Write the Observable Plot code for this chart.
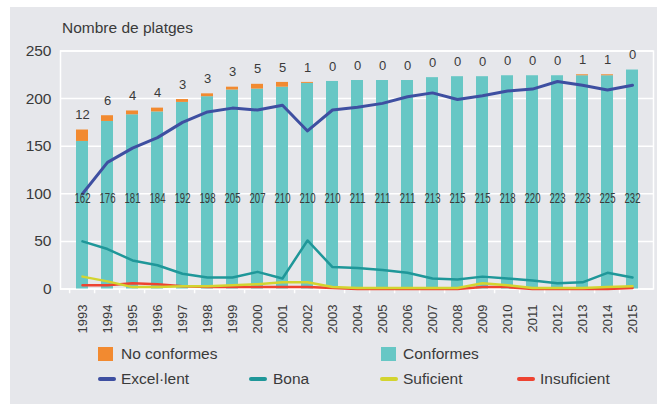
<!DOCTYPE html>
<html>
<head>
<meta charset="utf-8">
<script src="https://cdn.jsdelivr.net/npm/d3@7"></script>
<script src="https://cdn.jsdelivr.net/npm/@observablehq/plot@0.6"></script>
<style>
  body { margin: 0; background: #fff; font-family: "Liberation Sans", Arial, Helvetica, sans-serif; }
  #wrap { position: relative; width: 657px; height: 404px; background: #fff; overflow: hidden; }
  #panel { position: absolute; left: 10px; top: 7px; width: 647px; height: 397px; background: #e6e7eb; }
  #title { position: absolute; left: 62px; top: 19px; font-size: 15.5px; line-height: 18px; color: #3a3a3a; white-space: nowrap; }
  #chart { position: absolute; left: 0; top: 0; }
  .sw { position: absolute; }
  .lt { position: absolute; font-size: 15.5px; line-height: 18px; color: #3a3a3a; white-space: nowrap; }
</style>
</head>
<body>
<div id="wrap">
  <div id="panel"></div>
  <div id="chart"></div>
  <div id="title">Nombre de platges</div>
  <div id="legend"></div>
</div>
<script>
// ---- data ----
const years = ["1993","1994","1995","1996","1997","1998","1999","2000","2001","2002","2003","2004","2005","2006","2007","2008","2009","2010","2011","2012","2013","2014","2015"];
// bar heights as drawn
const conformes   = [155,176,183,186,196,202,209,210,212,216,218,219,219,219,222,223,223,224,224,224,224,224,230];
const noConformes = [12,6,4,4,3,3,3,5,5,1,0,0,0,0,0,0,0,0,0,0,1,1,0];
// printed labels for the "Conformes" count
const conformesLabels = [162,176,181,184,192,198,205,207,210,210,210,211,211,211,213,215,215,218,220,223,223,225,232];
// quality classes (lines)
const excellent   = [100,133,148,159,175,186,190,188,193,166,188,191,195,202,206,199,203,208,210,218,214,209,214];
const bona        = [50,42,30,25,16,12,12,18,11,51,23,22,20,17,11,10,13,11,9,6,7,17,12];
const suficient   = [13,8,2,2,3,3,4,5,7,7,2,1,1,1,1,1,6,4,1,1,1,2,3];
const insuficient = [4,4,6,5,3,2,2,2,2,2,1,0,0,0,0,0,2,2,0,0,0,0,1];
const yTicks = [0,50,100,150,200,250];

const seriesNames = ["No conformes","Conformes","Excel·lent","Bona","Suficient","Insuficient"];
const seriesColors = ["#f28a30","#67c7c5","#3e4fa1","#1f9799","#d3d42f","#ee4331"];

// ---- tables ----
const rows = years.map((year, i) => ({
  year, conformes: conformes[i], noConformes: noConformes[i],
  total: conformes[i] + noConformes[i], label: String(conformesLabels[i]), top: String(noConformes[i])
}));
const stack = rows.flatMap(r => [
  {year: r.year, cat: "Conformes", value: r.conformes},
  {year: r.year, cat: "No conformes", value: r.noConformes}
]);
const mk = (name, vals) => years.map((year, i) => ({year, name, value: vals[i]}));
const lExc = mk("Excel·lent", excellent), lBona = mk("Bona", bona),
      lSuf = mk("Suficient", suficient), lIns = mk("Insuficient", insuficient);

const left = 60, right = 653;
const step = (right - left) / years.length;
const textColor = "#3a3a3a";

const chart = Plot.plot({
  width: 657, height: 340,
  marginLeft: left, marginRight: 657 - right, marginTop: 50.5, marginBottom: 51.5,
  style: {background: "transparent", fontFamily: '"Liberation Sans", Arial, sans-serif', overflow: "visible"},
  x: {domain: years, paddingInner: 0.52, paddingOuter: 0.26, label: null},
  y: {domain: [0, 250], label: null},
  color: {domain: seriesNames, range: seriesColors},
  marks: [
    Plot.gridY(yTicks, {stroke: "#fff", strokeOpacity: 1, strokeWidth: 1.5}),
    Plot.frame({stroke: "#fff", strokeWidth: 1.5}),
    Plot.ruleX(years, {x: d => d, y1: 0, y2: -5, dx: -step / 2, stroke: "#fff", strokeWidth: 1.5}),
    Plot.barY(stack, {x: "year", y: "value", fill: "cat"}),
    Plot.line(lExc, {x: "year", y: "value", stroke: "name", strokeWidth: 3}),
    Plot.line(lBona, {x: "year", y: "value", stroke: "name", strokeWidth: 2.5}),
    Plot.line(lIns, {x: "year", y: "value", stroke: "name", strokeWidth: 2.5}),
    Plot.line(lSuf, {x: "year", y: "value", stroke: "name", strokeWidth: 2.5}),
    Plot.text(rows, {x: "year", y: 100, dy: 4.5, text: "label", fill: textColor, fontSize: 14, className: "clabel"}),
    Plot.text(rows, {x: "year", y: "total", dy: -15, text: "top", fill: textColor, fontSize: 13}),
    Plot.axisY(yTicks, {tickSize: 0, tickPadding: 9, fontSize: 15.5, color: textColor, label: null}),
    Plot.axisX({tickSize: 0, tickRotate: -90, tickPadding: 15.5, fontSize: 13, color: textColor, label: null})
  ]
});
// condensed look of the printed counts inside the bars
chart.querySelectorAll(".clabel text").forEach(t => {
  t.setAttribute("textLength", "16");
  t.setAttribute("lengthAdjust", "spacingAndGlyphs");
});
document.getElementById("chart").appendChild(chart);

// ---- legend (HTML below/around the SVG) ----
const legendItems = [
  {name: "No conformes", kind: "box", sx: 98, tx: 121, cy: 353.5},
  {name: "Conformes",    kind: "box", sx: 381, tx: 403, cy: 353.5},
  {name: "Excel·lent",   kind: "line", sx: 98, tx: 121, cy: 379},
  {name: "Bona",         kind: "line", sx: 249, tx: 273, cy: 379},
  {name: "Suficient",    kind: "line", sx: 380, tx: 403, cy: 379},
  {name: "Insuficient",  kind: "line", sx: 517, tx: 540, cy: 379}
];
const lg = document.getElementById("legend");
legendItems.forEach(it => {
  const c = seriesColors[seriesNames.indexOf(it.name)];
  const sw = document.createElement("div");
  sw.className = "sw";
  if (it.kind === "box") {
    Object.assign(sw.style, {left: it.sx + "px", top: (it.cy - 7) + "px", width: "15px", height: "14px", background: c});
  } else {
    Object.assign(sw.style, {left: it.sx + "px", top: (it.cy - 2) + "px", width: "18px", height: "4px", background: c, borderRadius: "2px"});
  }
  lg.appendChild(sw);
  const t = document.createElement("div");
  t.className = "lt";
  t.textContent = it.name;
  Object.assign(t.style, {left: it.tx + "px", top: (it.cy - 9) + "px"});
  lg.appendChild(t);
});
</script>
</body>
</html>
